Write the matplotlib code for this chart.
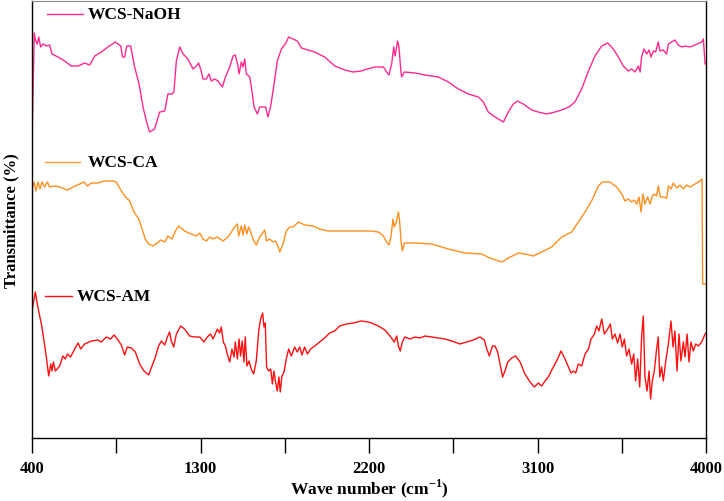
import numpy as np
import matplotlib
matplotlib.use('Agg')
import matplotlib.pyplot as plt

plt.rcParams['font.family'] = ['Liberation Serif', 'DejaVu Serif']
plt.rcParams['mathtext.fontset'] = 'custom'
plt.rcParams['mathtext.rm'] = 'Liberation Serif'
plt.rcParams['mathtext.bf'] = 'Liberation Serif:bold'

# wave numbers (cm-1) and transmittance (arbitrary, stacked)
naoh_x = [400, 412, 418, 428, 436, 446, 459, 476, 494, 507, 539, 574, 610, 646, 681, 708,
          735, 770, 806, 845, 874, 884, 895, 906, 927, 948, 972, 993, 1011, 1028, 1055,
          1082, 1109, 1126, 1148, 1158, 1171, 1189, 1207, 1233, 1260, 1278, 1290, 1304,
          1313, 1331, 1345, 1358, 1376, 1393, 1417, 1433, 1456, 1474, 1486, 1500, 1506,
          1518, 1527, 1536, 1545, 1563, 1575, 1586, 1604, 1616, 1648, 1660, 1675, 1693,
          1710, 1732, 1753, 1771, 1794, 1817, 1839, 1874, 1910, 1963, 2017, 2070, 2115,
          2159, 2190, 2232, 2277, 2294, 2307, 2321, 2332, 2339, 2346, 2353, 2360, 2367,
          2374, 2389, 2446, 2499, 2570, 2624, 2677, 2731, 2784, 2811, 2837, 2873, 2918,
          2944, 2971, 2994, 3024, 3069, 3104, 3149, 3193, 3229, 3268, 3300, 3336, 3372,
          3407, 3443, 3475, 3505, 3532, 3558, 3585, 3603, 3621, 3639, 3648, 3656, 3669,
          3683, 3696, 3706, 3719, 3731, 3745, 3754, 3772, 3790, 3799, 3817, 3834, 3852,
          3870, 3888, 3915, 3941, 3977, 3986, 3995]
naoh_y = [292, 405, 398, 394, 401, 391, 394, 392, 393, 384, 381, 377, 372, 372, 375, 373,
          382, 386, 391, 396, 392, 381, 381, 392, 392, 371, 354, 331, 317, 306, 309,
          326, 327, 344, 344, 346, 377, 391, 384, 379, 369, 372, 375, 367,
          359, 359, 364, 357, 359, 357, 351, 361, 371, 382, 383, 372, 364,
          376, 371, 379, 364, 361, 347, 331, 324, 331, 331, 321, 332, 354,
          377, 389, 394, 401, 399, 397, 390, 388, 386, 381, 372, 368, 366,
          367, 369, 371, 371, 366, 363, 374, 391, 382, 389, 397, 391, 374,
          361, 366, 365, 363, 361, 356, 349, 344, 341, 336, 326, 321, 316,
          326, 334, 337, 334, 328, 326, 324, 326, 328, 331, 336, 349, 367,
          382, 392, 395, 389, 381, 372, 367, 369, 366, 372, 366, 381, 389,
          384, 388, 381, 387, 386, 396, 387, 388, 384, 394, 396, 398, 393,
          391, 392, 391, 393, 396, 399, 374]

ca_x = [400, 401, 411, 421, 432, 443, 453, 468, 482, 494, 521, 548, 589, 619, 655, 678,
        696, 717, 753, 788, 833, 850, 874, 895, 922, 945, 970, 988, 1005, 1023, 1046,
        1069, 1087, 1109, 1126, 1148, 1166, 1183, 1215, 1251, 1278, 1296, 1313, 1331,
        1349, 1367, 1390, 1420, 1447, 1465, 1482, 1497, 1504, 1518, 1527, 1536, 1547,
        1557, 1568, 1580, 1598, 1616, 1643, 1653, 1669, 1687, 1700, 1714, 1723, 1741,
        1758, 1776, 1794, 1824, 1856, 1901, 1936, 1981, 2026, 2212, 2250, 2277, 2294,
        2307, 2318, 2328, 2335, 2346, 2357, 2364, 2371, 2378, 2389, 2446, 2535, 2624,
        2713, 2802, 2846, 2909, 2944, 2998, 3033, 3078, 3122, 3176, 3229, 3282, 3318,
        3354, 3389, 3425, 3446, 3487, 3523, 3550, 3567, 3585, 3603, 3617, 3630, 3642,
        3653, 3663, 3674, 3688, 3701, 3713, 3724, 3736, 3745, 3756, 3772, 3790, 3799,
        3813, 3826, 3843, 3861, 3879, 3897, 3915, 3941, 3968, 3979, 3982, 4000]
ca_y = [146, 249, 256, 247, 256, 249, 256, 251, 256, 251, 252, 251, 248, 251, 254, 256,
        252, 255, 255, 257, 257, 256, 248, 242, 237, 226, 219, 209, 199, 194, 192,
        195, 198, 196, 202, 199, 207, 212, 207, 204, 202, 205, 199, 197,
        201, 199, 201, 197, 201, 206, 211, 214, 202, 212, 203, 213, 204,
        211, 206, 199, 193, 201, 208, 197, 199, 196, 197, 192, 186, 194,
        207, 211, 211, 216, 213, 212, 209, 207, 207, 207, 206, 202, 196,
        193, 202, 219, 211, 216, 226, 216, 197, 187, 195, 195, 194, 189,
        185, 184, 180, 176, 180, 185, 184, 182, 186, 191, 201, 206, 216,
        226, 237, 252, 256, 256, 251, 244, 237, 239, 236, 238, 234, 241,
        226, 244, 234, 241, 234, 242, 244, 242, 252, 241, 241, 240, 252,
        249, 255, 250, 253, 249, 253, 251, 254, 257, 259, 154, 154]

am_x = [400, 418, 428, 441, 453, 464, 476, 489, 500, 507, 514, 525, 548, 565, 578, 589,
        606, 628, 646, 660, 681, 717, 752, 770, 797, 820, 838, 856, 877, 895, 909,
        931, 952, 975, 998, 1023, 1041, 1059, 1076, 1091, 1109, 1123, 1135, 1144, 1157,
        1171, 1194, 1215, 1242, 1269, 1296, 1319, 1336, 1354, 1367, 1390, 1402, 1411,
        1422, 1433, 1443, 1456, 1468, 1479, 1486, 1497, 1506, 1514, 1523, 1532, 1539,
        1548, 1559, 1571, 1584, 1598, 1611, 1621, 1632, 1639, 1646, 1653, 1664, 1675,
        1684, 1692, 1700, 1710, 1719, 1726, 1735, 1746, 1758, 1771, 1785, 1803, 1817,
        1830, 1842, 1856, 1871, 1888, 1910, 1936, 1963, 1990, 2017, 2043, 2079, 2115,
        2159, 2195, 2214, 2250, 2285, 2312, 2335, 2348, 2357, 2367, 2378, 2392, 2419,
        2446, 2472, 2499, 2535, 2570, 2606, 2642, 2686, 2722, 2757, 2793, 2816, 2829,
        2843, 2859, 2873, 2887, 2900, 2914, 2926, 2941, 2962, 2983, 3007, 3033, 3060,
        3083, 3104, 3122, 3140, 3158, 3176, 3202, 3226, 3247, 3265, 3279, 3291, 3304,
        3318, 3336, 3354, 3372, 3386, 3404, 3416, 3428, 3443, 3457, 3475, 3489, 3500,
        3514, 3528, 3541, 3553, 3564, 3576, 3589, 3603, 3614, 3624, 3635, 3646, 3656,
        3665, 3674, 3685, 3696, 3704, 3713, 3724, 3735, 3745, 3753, 3763, 3772, 3785,
        3799, 3813, 3824, 3834, 3845, 3856, 3866, 3879, 3888, 3899, 3909, 3920, 3932,
        3945, 3959, 3977, 3995, 4000]
am_y = [127, 146, 134, 122, 111, 97, 82, 62, 74, 67, 76, 67, 72, 82, 79, 84,
        81, 89, 95, 89, 94, 97, 98, 96, 101, 99, 103, 99, 93, 83, 91,
        90, 86, 74, 67, 63, 72, 81, 92, 97, 93, 101, 106, 97, 91,
        104, 112, 109, 102, 101, 101, 96, 101, 104, 99, 109, 105, 111,
        96, 92, 84, 76, 89, 81, 96, 79, 99, 82, 97, 76, 101,
        72, 77, 69, 64, 77, 107, 119, 125, 111, 115, 71, 67, 69,
        54, 67, 57, 47, 61, 46, 62, 66, 79, 89, 82, 91, 86,
        91, 83, 91, 84, 89, 92, 96, 100, 105, 107, 112, 114, 115,
        117, 116, 115, 112, 108, 102, 96, 102, 92, 87, 96, 101, 99,
        101, 100, 102, 101, 100, 99, 97, 94, 96, 98, 101, 98, 89,
        82, 92, 92, 86, 74, 61, 67, 76, 80, 82, 76, 64, 56,
        51, 55, 52, 57, 61, 68, 77, 87, 79, 71, 65, 67, 65,
        74, 72, 84, 89, 99, 104, 112, 107, 119, 104, 109, 114, 99,
        104, 95, 104, 91, 99, 82, 89, 74, 84, 57, 79, 51, 101,
        122, 61, 47, 67, 39, 57, 67, 87, 101, 61, 71, 57, 77,
        94, 117, 91, 107, 67, 104, 77, 96, 81, 104, 76, 96, 87,
        94, 92, 96, 104, 105]

series = [
    ('WCS-NaOH', naoh_x, naoh_y, '#ff2a8f'),
    ('WCS-CA', ca_x, ca_y, '#ff8f1f'),
    ('WCS-AM', am_x, am_y, '#ff1010'),
]

fig = plt.figure(figsize=(7.24, 5.02), dpi=100)
ax = fig.add_axes([32 / 724, 63 / 502, 674 / 724, 437 / 502])

for name, x, y, c in series:
    ax.plot(x, y, color=c, lw=1.0)

# legend-style labels next to each trace
labels = [
    ('WCS-NaOH', '#ff2a8f', 0.022, 0.076, 0.970, 0.083),
    ('WCS-CA', '#ff9a40', 0.019, 0.071, 0.632, 0.082),
    ('WCS-AM', '#ff1010', 0.019, 0.059, 0.325, 0.067),
]
for name, c, x0, x1, yy, xt in labels:
    ax.plot([x0, x1], [yy, yy], color=c, lw=1.0, transform=ax.transAxes)
    ax.text(xt, yy, name, transform=ax.transAxes, fontsize=12.5,
            fontweight='bold', va='center', ha='left')

ax.set_xlim(400, 4000)
ax.set_ylim(0, 437)
ax.set_xticks([400, 1300, 2200, 3100, 4000])
ax.set_xticks([850, 1750, 2650, 3550], minor=True)
ax.set_yticks([])
ax.tick_params(axis='x', which='both', direction='out', length=11, width=1, pad=5)
for lab in ax.get_xticklabels():
    lab.set_fontweight('bold')
    lab.set_fontsize(12)

for s in ['left', 'bottom', 'right']:
    ax.spines[s].set_color('black')
    ax.spines[s].set_linewidth(1.0)
ax.spines['top'].set_color('#888888')

ax.set_xlabel(r'Wave number (cm$^{\mathbf{-1}}$)', fontsize=12.5, fontweight='bold', labelpad=0)
ax.set_ylabel('Transmittance (%)', fontsize=12, fontweight='bold', labelpad=9)

fig.savefig('out.png', dpi=100)
